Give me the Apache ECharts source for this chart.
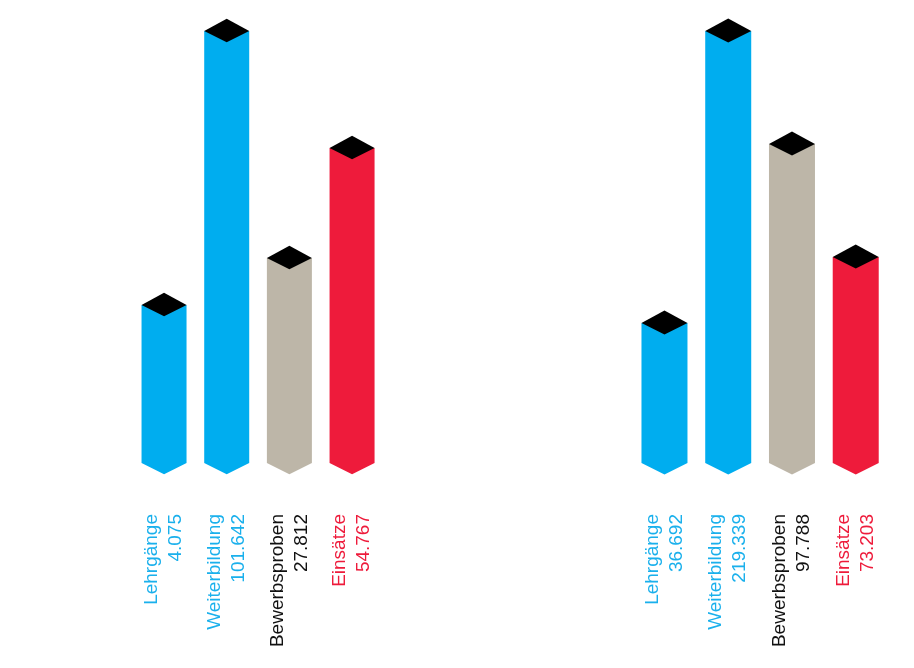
<!DOCTYPE html>
<html>
<head>
<meta charset="utf-8">
<script src="https://cdn.jsdelivr.net/npm/echarts@6/dist/echarts.min.js"></script>
<style>html,body{margin:0;padding:0;background:#fff}#c{width:914px;height:668px}</style>
</head>
<body>
<div id="c"></div>
<script>
// Data
const categories = ['Lehrgänge', 'Weiterbildung', 'Bewerbsproben', 'Einsätze'];
const leftValues = ['4.075', '101.642', '27.812', '54.767'];
const rightValues = ['36.692', '219.339', '97.788', '73.203'];
// visual bar heights (same arbitrary unit for both panels)
const leftHeights = [158, 432, 205, 315];
const rightHeights = [140, 432, 319, 206];

const barColors = ['#00adef', '#00adef', '#bdb6a8', '#ee1b3b'];
const textColors = ['#1ab0ec', '#1ab0ec', '#111111', '#ee1b3b'];

const chart = echarts.init(document.getElementById('c'));

function makeRender(halfW) {
  return function (params, api) {
    const i = api.value(0);
    const top = api.coord([i, api.value(1)]);
    const base = api.coord([i, 0]);
    const x = top[0], yt = top[1], yb = base[1];
    const d = halfW / 2;
    return {
      type: 'group',
      children: [
        {
          type: 'polygon',
          shape: { points: [[x - halfW, yt], [x + halfW, yt], [x + halfW, yb], [x, yb + d], [x - halfW, yb]] },
          style: { fill: barColors[i] }
        },
        {
          type: 'polygon',
          shape: { points: [[x, yt - d - 1], [x + halfW, yt], [x, yt + d], [x - halfW, yt]] },
          style: { fill: '#000' }
        }
      ]
    };
  };
}

const rich = {};
textColors.forEach((c, i) => { rich['c' + i] = { color: c, fontSize: 19, lineHeight: 24, fontFamily: 'Liberation Sans, Arial, sans-serif' }; });

function xAxisFor(gridIndex, vals) {
  return {
    type: 'category', gridIndex, data: categories,
    axisLine: { show: false }, axisTick: { show: false },
    axisLabel: {
      interval: 0, rotate: 90, margin: 51,
      formatter: (v, idx) => `{c${idx}|${v}}\n{c${idx}|${vals[idx]}}`,
      rich, align: 'right', verticalAlign: 'middle'
    }
  };
}

function yAxisFor(gridIndex) {
  return { type: 'value', gridIndex, min: 0, max: 463, show: false, splitLine: { show: false } };
}

chart.setOption({
  animation: false,
  grid: [
    { left: 132.7, width: 250.7, top: 0, height: 463 },
    { left: 632.6, width: 255, top: 0, height: 463 }
  ],
  xAxis: [xAxisFor(0, leftValues), xAxisFor(1, rightValues)],
  yAxis: [yAxisFor(0), yAxisFor(1)],
  series: [
    { type: 'custom', xAxisIndex: 0, yAxisIndex: 0, clip: false, renderItem: makeRender(22.5),
      data: leftHeights.map((h, i) => [i, h]) },
    { type: 'custom', xAxisIndex: 1, yAxisIndex: 1, clip: false, renderItem: makeRender(23),
      data: rightHeights.map((h, i) => [i, h]) }
  ]
});
</script>
</body>
</html>
